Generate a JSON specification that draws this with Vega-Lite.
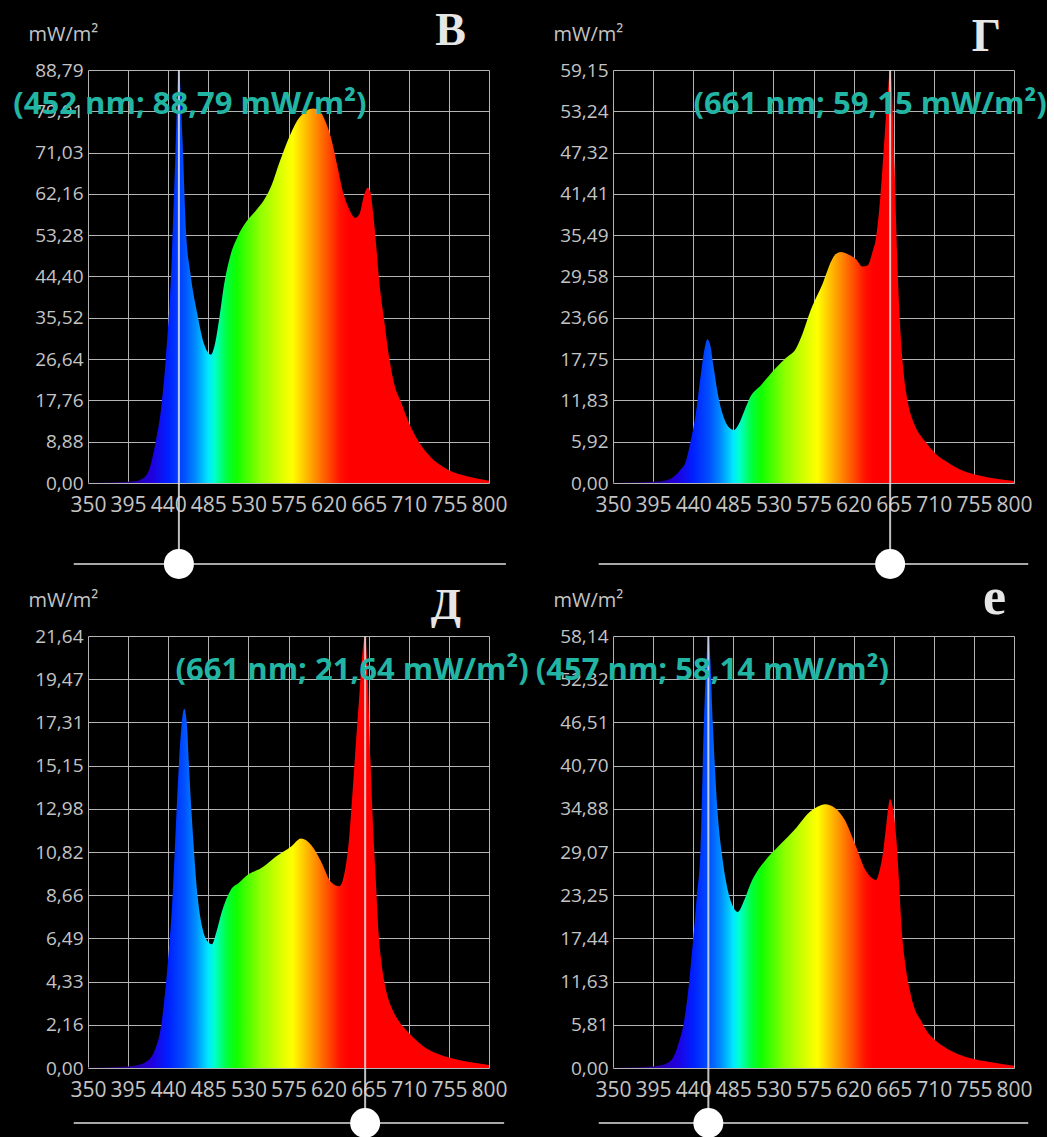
{
"$schema":"https://vega.github.io/schema/vega-lite/v6.json",
"background":"black",
"padding":{"left":13,"top":8,"right":0,"bottom":0},
"columns":2,
"spacing":{"row":153,"column":124},
"bounds":"flush",
"config":{"view":{"stroke":null},"axis":{"labelFont":"Open Sans","titleFont":"Open Sans","labelColor":"#c4c4c4","titleColor":"#c4c4c4","gridColor":"#b4b4b4","gridWidth":1,"gridOpacity":1,"domain":false,"ticks":false,"labelOverlap":false,"labelBound":false,"labelFlush":false}},
"datasets":{
"mk":[
{"p":"v","peak":452,"max":88.79,"lvl":-17.41,"s0":334,"s1":819,"label":"(452 nm; 88,79 mW/m²)"},
{"p":"g","peak":661,"max":59.15,"lvl":-11.6,"s0":334,"s1":816,"label":"(661 nm; 59,15 mW/m²)"},
{"p":"d","peak":661,"max":21.64,"lvl":-2.755,"s0":334,"s1":817,"label":"(661 nm; 21,64 mW/m²)"},
{"p":"e","peak":457,"max":58.14,"lvl":-7.4,"s0":334,"s1":816,"label":"(457 nm; 58,14 mW/m²)"}
],
"spec":[
{"p":"v","nm":350,"v":0.05},{"p":"v","nm":370,"v":0.1},{"p":"v","nm":390,"v":0.2},{"p":"v","nm":400,"v":0.3},{"p":"v","nm":410,"v":0.8},{"p":"v","nm":418,"v":2.5},{"p":"v","nm":426,"v":8.9},{"p":"v","nm":432,"v":16},{"p":"v","nm":437,"v":26},{"p":"v","nm":443,"v":44},{"p":"v","nm":448,"v":70},{"p":"v","nm":452,"v":88.79},{"p":"v","nm":456,"v":74},{"p":"v","nm":460,"v":54},{"p":"v","nm":465,"v":45},{"p":"v","nm":473,"v":36},{"p":"v","nm":480,"v":30},{"p":"v","nm":488,"v":27.6},{"p":"v","nm":492,"v":29.5},{"p":"v","nm":497,"v":35},{"p":"v","nm":503,"v":43},{"p":"v","nm":510,"v":49},{"p":"v","nm":518,"v":53},{"p":"v","nm":527,"v":56},{"p":"v","nm":538,"v":58.5},{"p":"v","nm":548,"v":61},{"p":"v","nm":556,"v":64},{"p":"v","nm":565,"v":69},{"p":"v","nm":575,"v":74},{"p":"v","nm":585,"v":78},{"p":"v","nm":595,"v":80},{"p":"v","nm":603,"v":80.5},{"p":"v","nm":610,"v":80},{"p":"v","nm":617,"v":77.5},{"p":"v","nm":623,"v":74},{"p":"v","nm":630,"v":68},{"p":"v","nm":637,"v":62},{"p":"v","nm":644,"v":58.5},{"p":"v","nm":650,"v":57},{"p":"v","nm":655,"v":58},{"p":"v","nm":660,"v":62},{"p":"v","nm":664,"v":63.5},{"p":"v","nm":667,"v":62.5},{"p":"v","nm":670,"v":58},{"p":"v","nm":673,"v":52},{"p":"v","nm":677,"v":43},{"p":"v","nm":682,"v":35.5},{"p":"v","nm":688,"v":27},{"p":"v","nm":694,"v":21},{"p":"v","nm":701,"v":17.5},{"p":"v","nm":710,"v":13},{"p":"v","nm":721,"v":8.9},{"p":"v","nm":735,"v":5.5},{"p":"v","nm":750,"v":3.3},{"p":"v","nm":770,"v":1.7},{"p":"v","nm":785,"v":1},{"p":"v","nm":800,"v":0.5},
{"p":"g","nm":350,"v":0.05},{"p":"g","nm":380,"v":0.1},{"p":"g","nm":400,"v":0.2},{"p":"g","nm":410,"v":0.4},{"p":"g","nm":418,"v":0.9},{"p":"g","nm":425,"v":1.8},{"p":"g","nm":432,"v":3.2},{"p":"g","nm":437,"v":5.9},{"p":"g","nm":443,"v":10},{"p":"g","nm":448,"v":15},{"p":"g","nm":452,"v":18.7},{"p":"g","nm":456,"v":20.6},{"p":"g","nm":459,"v":19.8},{"p":"g","nm":463,"v":16.5},{"p":"g","nm":468,"v":12.5},{"p":"g","nm":474,"v":9.5},{"p":"g","nm":480,"v":8},{"p":"g","nm":486,"v":7.6},{"p":"g","nm":491,"v":8.4},{"p":"g","nm":497,"v":10.2},{"p":"g","nm":504,"v":12.3},{"p":"g","nm":516,"v":14},{"p":"g","nm":533,"v":16.5},{"p":"g","nm":545,"v":18},{"p":"g","nm":555,"v":19.2},{"p":"g","nm":563,"v":21.5},{"p":"g","nm":572,"v":24.8},{"p":"g","nm":586,"v":28.8},{"p":"g","nm":595,"v":31.8},{"p":"g","nm":600,"v":32.8},{"p":"g","nm":606,"v":33.1},{"p":"g","nm":613,"v":32.8},{"p":"g","nm":623,"v":32},{"p":"g","nm":630,"v":31},{"p":"g","nm":636,"v":31.2},{"p":"g","nm":641,"v":33},{"p":"g","nm":645,"v":35},{"p":"g","nm":650,"v":41},{"p":"g","nm":655,"v":50},{"p":"g","nm":659,"v":57},{"p":"g","nm":661,"v":59.15},{"p":"g","nm":663,"v":56},{"p":"g","nm":666,"v":45},{"p":"g","nm":669,"v":32},{"p":"g","nm":672,"v":23},{"p":"g","nm":676,"v":16},{"p":"g","nm":681,"v":11.5},{"p":"g","nm":688,"v":8.5},{"p":"g","nm":700,"v":6},{"p":"g","nm":712,"v":4.2},{"p":"g","nm":725,"v":3},{"p":"g","nm":740,"v":1.9},{"p":"g","nm":760,"v":1.1},{"p":"g","nm":780,"v":0.6},{"p":"g","nm":800,"v":0.3},
{"p":"d","nm":350,"v":0.02},{"p":"d","nm":380,"v":0.05},{"p":"d","nm":400,"v":0.1},{"p":"d","nm":415,"v":0.3},{"p":"d","nm":425,"v":0.9},{"p":"d","nm":432,"v":2.1},{"p":"d","nm":438,"v":4.5},{"p":"d","nm":445,"v":8.7},{"p":"d","nm":449,"v":12.5},{"p":"d","nm":452,"v":15.2},{"p":"d","nm":455,"v":17.2},{"p":"d","nm":458,"v":18},{"p":"d","nm":461,"v":17.2},{"p":"d","nm":464,"v":14.5},{"p":"d","nm":468,"v":11.5},{"p":"d","nm":473,"v":8.6},{"p":"d","nm":479,"v":6.9},{"p":"d","nm":485,"v":6.3},{"p":"d","nm":489,"v":6.2},{"p":"d","nm":494,"v":6.8},{"p":"d","nm":500,"v":7.8},{"p":"d","nm":510,"v":8.9},{"p":"d","nm":520,"v":9.3},{"p":"d","nm":530,"v":9.7},{"p":"d","nm":544,"v":10},{"p":"d","nm":561,"v":10.6},{"p":"d","nm":578,"v":11.1},{"p":"d","nm":589,"v":11.5},{"p":"d","nm":600,"v":11.2},{"p":"d","nm":611,"v":10.4},{"p":"d","nm":623,"v":9.3},{"p":"d","nm":632,"v":9.1},{"p":"d","nm":638,"v":9.8},{"p":"d","nm":643,"v":11.5},{"p":"d","nm":647,"v":13.9},{"p":"d","nm":651,"v":16.5},{"p":"d","nm":655,"v":19},{"p":"d","nm":658,"v":20.8},{"p":"d","nm":661,"v":21.64},{"p":"d","nm":664,"v":19.5},{"p":"d","nm":667,"v":15.4},{"p":"d","nm":670,"v":12},{"p":"d","nm":673,"v":9.4},{"p":"d","nm":676,"v":6.8},{"p":"d","nm":679,"v":5.4},{"p":"d","nm":684,"v":4},{"p":"d","nm":690,"v":3.1},{"p":"d","nm":698,"v":2.4},{"p":"d","nm":707,"v":1.9},{"p":"d","nm":718,"v":1.4},{"p":"d","nm":729,"v":1},{"p":"d","nm":743,"v":0.7},{"p":"d","nm":757,"v":0.5},{"p":"d","nm":778,"v":0.3},{"p":"d","nm":800,"v":0.15},
{"p":"e","nm":350,"v":0.05},{"p":"e","nm":380,"v":0.1},{"p":"e","nm":400,"v":0.3},{"p":"e","nm":410,"v":0.6},{"p":"e","nm":418,"v":1.5},{"p":"e","nm":424,"v":3.5},{"p":"e","nm":429,"v":5.8},{"p":"e","nm":434,"v":10},{"p":"e","nm":440,"v":17.4},{"p":"e","nm":444,"v":23},{"p":"e","nm":448,"v":29},{"p":"e","nm":452,"v":46.5},{"p":"e","nm":455,"v":55},{"p":"e","nm":457,"v":58.14},{"p":"e","nm":459,"v":55.5},{"p":"e","nm":462,"v":46.5},{"p":"e","nm":467,"v":35},{"p":"e","nm":472,"v":29},{"p":"e","nm":477,"v":25},{"p":"e","nm":483,"v":22.2},{"p":"e","nm":490,"v":21},{"p":"e","nm":497,"v":22.5},{"p":"e","nm":504,"v":24.7},{"p":"e","nm":512,"v":26.5},{"p":"e","nm":520,"v":27.8},{"p":"e","nm":537,"v":30},{"p":"e","nm":554,"v":32.1},{"p":"e","nm":571,"v":34.5},{"p":"e","nm":580,"v":35.2},{"p":"e","nm":588,"v":35.5},{"p":"e","nm":599,"v":35},{"p":"e","nm":610,"v":33.4},{"p":"e","nm":622,"v":30},{"p":"e","nm":633,"v":26.7},{"p":"e","nm":640,"v":25.6},{"p":"e","nm":645,"v":25.3},{"p":"e","nm":649,"v":26.5},{"p":"e","nm":653,"v":29},{"p":"e","nm":657,"v":33},{"p":"e","nm":661,"v":36.2},{"p":"e","nm":664,"v":35},{"p":"e","nm":668,"v":30.8},{"p":"e","nm":671,"v":25},{"p":"e","nm":674,"v":18.6},{"p":"e","nm":678,"v":14},{"p":"e","nm":683,"v":10.5},{"p":"e","nm":689,"v":7.8},{"p":"e","nm":695,"v":6.5},{"p":"e","nm":703,"v":4.8},{"p":"e","nm":711,"v":3.8},{"p":"e","nm":725,"v":2.6},{"p":"e","nm":739,"v":1.8},{"p":"e","nm":755,"v":1.2},{"p":"e","nm":773,"v":0.8},{"p":"e","nm":800,"v":0.3}
]},
"concat":[
{"width":401,"height":413,
"title":{"text":"В","anchor":"end","frame":"group","dx":-23,"offset":-67,"baseline":"alphabetic","font":"Liberation Serif","fontSize":46,"fontWeight":"bold","color":"#e6e6e6"},
"layer":[
{"data":{"name":"spec"},"transform":[{"filter":"datum.p == 'v'"}],
"mark":{"type":"area","interpolate":"monotone","opacity":1,"color":{"gradient":"linear","x1":0,"y1":0,"x2":1,"y2":0,"stops":[{"offset":0,"color":"#1a0030"},{"offset":0.1,"color":"#2a0090"},{"offset":0.16,"color":"#2000e0"},{"offset":0.2,"color":"#0020ff"},{"offset":0.24,"color":"#0050ff"},{"offset":0.27,"color":"#0090ff"},{"offset":0.3,"color":"#00e8ff"},{"offset":0.315,"color":"#00ffd0"},{"offset":0.345,"color":"#00ff40"},{"offset":0.37,"color":"#10ff00"},{"offset":0.43,"color":"#90ff00"},{"offset":0.49,"color":"#e8ff00"},{"offset":0.51,"color":"#ffff00"},{"offset":0.55,"color":"#ffb000"},{"offset":0.59,"color":"#ff6000"},{"offset":0.63,"color":"#ff1000"},{"offset":0.65,"color":"#ff0000"},{"offset":1,"color":"#ff0000"}]}},
"encoding":{
"x":{"field":"nm","type":"quantitative","scale":{"domain":[350,800],"nice":false,"zero":false},"axis":{"title":null,"values":[350,395,440,485,530,575,620,665,710,755,800],"labelFontSize":21,"labelPadding":11}},
"y":{"field":"v","type":"quantitative","scale":{"domain":[0,88.79],"nice":false,"zero":false},"axis":{"title":"mW/m²","values":[0,8.88,17.76,26.64,35.52,44.4,53.28,62.16,71.03,79.91,88.79],"labelExpr":"replace(format(datum.value, '.2f'), '.', ',')","labelFontSize":19,"labelPadding":5,"titleAngle":0,"titleAlign":"left","titleBaseline":"middle","titleX":-60,"titleY":-36,"titleFontSize":20,"titleFontWeight":"normal"}}}},
{"data":{"name":"mk"},"transform":[{"filter":"datum.p == 'v'"}],"mark":{"type":"rule","color":"#a8a8a8","strokeWidth":2},
"encoding":{"x":{"field":"s0","type":"quantitative"},"x2":{"field":"s1"},"y":{"field":"lvl","type":"quantitative"}}},
{"data":{"name":"mk"},"transform":[{"filter":"datum.p == 'v'"}],"mark":{"type":"rule","color":"#e0e0e0","strokeWidth":2,"opacity":0.85},
"encoding":{"x":{"field":"peak","type":"quantitative"},"y":{"field":"max","type":"quantitative"},"y2":{"field":"lvl"}}},
{"data":{"name":"mk"},"transform":[{"filter":"datum.p == 'v'"}],"mark":{"type":"point","shape":"circle","filled":true,"color":"white","size":900,"opacity":1},
"encoding":{"x":{"field":"peak","type":"quantitative"},"y":{"field":"lvl","type":"quantitative"}}},
{"data":{"name":"mk"},"transform":[{"filter":"datum.p == 'v'"}],"mark":{"type":"text","font":"Open Sans","fontSize":31,"fontWeight":"bold","color":"#22b5a3","dy":35,"dx":11,"baseline":"middle","align":"center"},
"encoding":{"x":{"field":"peak","type":"quantitative"},"y":{"field":"max","type":"quantitative"},"text":{"field":"label"}}}
]},
{"width":401,"height":413,
"title":{"text":"Г","anchor":"end","frame":"group","dx":-13,"offset":-73,"baseline":"alphabetic","font":"Liberation Serif","fontSize":46,"fontWeight":"bold","color":"#e6e6e6"},
"layer":[
{"data":{"name":"spec"},"transform":[{"filter":"datum.p == 'g'"}],
"mark":{"type":"area","interpolate":"monotone","opacity":1,"color":{"gradient":"linear","x1":0,"y1":0,"x2":1,"y2":0,"stops":[{"offset":0,"color":"#1a0030"},{"offset":0.1,"color":"#2a0090"},{"offset":0.16,"color":"#2000e0"},{"offset":0.2,"color":"#0020ff"},{"offset":0.24,"color":"#0050ff"},{"offset":0.27,"color":"#0090ff"},{"offset":0.3,"color":"#00e8ff"},{"offset":0.315,"color":"#00ffd0"},{"offset":0.345,"color":"#00ff40"},{"offset":0.37,"color":"#10ff00"},{"offset":0.43,"color":"#90ff00"},{"offset":0.49,"color":"#e8ff00"},{"offset":0.51,"color":"#ffff00"},{"offset":0.55,"color":"#ffb000"},{"offset":0.59,"color":"#ff6000"},{"offset":0.63,"color":"#ff1000"},{"offset":0.65,"color":"#ff0000"},{"offset":1,"color":"#ff0000"}]}},
"encoding":{
"x":{"field":"nm","type":"quantitative","scale":{"domain":[350,800],"nice":false,"zero":false},"axis":{"title":null,"values":[350,395,440,485,530,575,620,665,710,755,800],"labelFontSize":21,"labelPadding":11}},
"y":{"field":"v","type":"quantitative","scale":{"domain":[0,59.15],"nice":false,"zero":false},"axis":{"title":"mW/m²","values":[0,5.92,11.83,17.75,23.66,29.58,35.49,41.41,47.32,53.24,59.15],"labelExpr":"replace(format(datum.value, '.2f'), '.', ',')","labelFontSize":19,"labelPadding":5,"titleAngle":0,"titleAlign":"left","titleBaseline":"middle","titleX":-60,"titleY":-36,"titleFontSize":20,"titleFontWeight":"normal"}}}},
{"data":{"name":"mk"},"transform":[{"filter":"datum.p == 'g'"}],"mark":{"type":"rule","color":"#a8a8a8","strokeWidth":2},
"encoding":{"x":{"field":"s0","type":"quantitative"},"x2":{"field":"s1"},"y":{"field":"lvl","type":"quantitative"}}},
{"data":{"name":"mk"},"transform":[{"filter":"datum.p == 'g'"}],"mark":{"type":"rule","color":"#e0e0e0","strokeWidth":2,"opacity":0.85},
"encoding":{"x":{"field":"peak","type":"quantitative"},"y":{"field":"max","type":"quantitative"},"y2":{"field":"lvl"}}},
{"data":{"name":"mk"},"transform":[{"filter":"datum.p == 'g'"}],"mark":{"type":"point","shape":"circle","filled":true,"color":"white","size":900,"opacity":1},
"encoding":{"x":{"field":"peak","type":"quantitative"},"y":{"field":"lvl","type":"quantitative"}}},
{"data":{"name":"mk"},"transform":[{"filter":"datum.p == 'g'"}],"mark":{"type":"text","font":"Open Sans","fontSize":31,"fontWeight":"bold","color":"#22b5a3","dy":35,"dx":-20,"baseline":"middle","align":"center"},
"encoding":{"x":{"field":"peak","type":"quantitative"},"y":{"field":"max","type":"quantitative"},"text":{"field":"label"}}}
]},
{"width":401,"height":432,
"title":{"text":"Д","anchor":"end","frame":"group","dx":-28,"offset":-73,"baseline":"alphabetic","font":"Liberation Serif","fontSize":44,"fontWeight":"bold","color":"#e6e6e6"},
"layer":[
{"data":{"name":"spec"},"transform":[{"filter":"datum.p == 'd'"}],
"mark":{"type":"area","interpolate":"monotone","opacity":1,"color":{"gradient":"linear","x1":0,"y1":0,"x2":1,"y2":0,"stops":[{"offset":0,"color":"#1a0030"},{"offset":0.1,"color":"#2a0090"},{"offset":0.16,"color":"#2000e0"},{"offset":0.2,"color":"#0020ff"},{"offset":0.24,"color":"#0050ff"},{"offset":0.27,"color":"#0090ff"},{"offset":0.3,"color":"#00e8ff"},{"offset":0.315,"color":"#00ffd0"},{"offset":0.345,"color":"#00ff40"},{"offset":0.37,"color":"#10ff00"},{"offset":0.43,"color":"#90ff00"},{"offset":0.49,"color":"#e8ff00"},{"offset":0.51,"color":"#ffff00"},{"offset":0.55,"color":"#ffb000"},{"offset":0.59,"color":"#ff6000"},{"offset":0.63,"color":"#ff1000"},{"offset":0.65,"color":"#ff0000"},{"offset":1,"color":"#ff0000"}]}},
"encoding":{
"x":{"field":"nm","type":"quantitative","scale":{"domain":[350,800],"nice":false,"zero":false},"axis":{"title":null,"values":[350,395,440,485,530,575,620,665,710,755,800],"labelFontSize":21,"labelPadding":11}},
"y":{"field":"v","type":"quantitative","scale":{"domain":[0,21.64],"nice":false,"zero":false},"axis":{"title":"mW/m²","values":[0,2.16,4.33,6.49,8.66,10.82,12.98,15.15,17.31,19.47,21.64],"labelExpr":"replace(format(datum.value, '.2f'), '.', ',')","labelFontSize":19,"labelPadding":5,"titleAngle":0,"titleAlign":"left","titleBaseline":"middle","titleX":-60,"titleY":-36,"titleFontSize":20,"titleFontWeight":"normal"}}}},
{"data":{"name":"mk"},"transform":[{"filter":"datum.p == 'd'"}],"mark":{"type":"rule","color":"#a8a8a8","strokeWidth":2},
"encoding":{"x":{"field":"s0","type":"quantitative"},"x2":{"field":"s1"},"y":{"field":"lvl","type":"quantitative"}}},
{"data":{"name":"mk"},"transform":[{"filter":"datum.p == 'd'"}],"mark":{"type":"rule","color":"#e0e0e0","strokeWidth":2,"opacity":0.85},
"encoding":{"x":{"field":"peak","type":"quantitative"},"y":{"field":"max","type":"quantitative"},"y2":{"field":"lvl"}}},
{"data":{"name":"mk"},"transform":[{"filter":"datum.p == 'd'"}],"mark":{"type":"point","shape":"circle","filled":true,"color":"white","size":900,"opacity":1},
"encoding":{"x":{"field":"peak","type":"quantitative"},"y":{"field":"lvl","type":"quantitative"}}},
{"data":{"name":"mk"},"transform":[{"filter":"datum.p == 'd'"}],"mark":{"type":"text","font":"Open Sans","fontSize":31,"fontWeight":"bold","color":"#22b5a3","dy":35,"dx":-13,"baseline":"middle","align":"center"},
"encoding":{"x":{"field":"peak","type":"quantitative"},"y":{"field":"max","type":"quantitative"},"text":{"field":"label"}}}
]},
{"width":401,"height":432,
"title":{"text":"е","anchor":"end","frame":"group","dx":-8,"offset":-76,"baseline":"alphabetic","font":"Liberation Serif","fontSize":52,"fontWeight":"bold","color":"#e6e6e6"},
"layer":[
{"data":{"name":"spec"},"transform":[{"filter":"datum.p == 'e'"}],
"mark":{"type":"area","interpolate":"monotone","opacity":1,"color":{"gradient":"linear","x1":0,"y1":0,"x2":1,"y2":0,"stops":[{"offset":0,"color":"#1a0030"},{"offset":0.1,"color":"#2a0090"},{"offset":0.16,"color":"#2000e0"},{"offset":0.2,"color":"#0020ff"},{"offset":0.24,"color":"#0050ff"},{"offset":0.27,"color":"#0090ff"},{"offset":0.3,"color":"#00e8ff"},{"offset":0.315,"color":"#00ffd0"},{"offset":0.345,"color":"#00ff40"},{"offset":0.37,"color":"#10ff00"},{"offset":0.43,"color":"#90ff00"},{"offset":0.49,"color":"#e8ff00"},{"offset":0.51,"color":"#ffff00"},{"offset":0.55,"color":"#ffb000"},{"offset":0.59,"color":"#ff6000"},{"offset":0.63,"color":"#ff1000"},{"offset":0.65,"color":"#ff0000"},{"offset":1,"color":"#ff0000"}]}},
"encoding":{
"x":{"field":"nm","type":"quantitative","scale":{"domain":[350,800],"nice":false,"zero":false},"axis":{"title":null,"values":[350,395,440,485,530,575,620,665,710,755,800],"labelFontSize":21,"labelPadding":11}},
"y":{"field":"v","type":"quantitative","scale":{"domain":[0,58.14],"nice":false,"zero":false},"axis":{"title":"mW/m²","values":[0,5.81,11.63,17.44,23.25,29.07,34.88,40.7,46.51,52.32,58.14],"labelExpr":"replace(format(datum.value, '.2f'), '.', ',')","labelFontSize":19,"labelPadding":5,"titleAngle":0,"titleAlign":"left","titleBaseline":"middle","titleX":-60,"titleY":-36,"titleFontSize":20,"titleFontWeight":"normal"}}}},
{"data":{"name":"mk"},"transform":[{"filter":"datum.p == 'e'"}],"mark":{"type":"rule","color":"#a8a8a8","strokeWidth":2},
"encoding":{"x":{"field":"s0","type":"quantitative"},"x2":{"field":"s1"},"y":{"field":"lvl","type":"quantitative"}}},
{"data":{"name":"mk"},"transform":[{"filter":"datum.p == 'e'"}],"mark":{"type":"rule","color":"#e0e0e0","strokeWidth":2,"opacity":0.85},
"encoding":{"x":{"field":"peak","type":"quantitative"},"y":{"field":"max","type":"quantitative"},"y2":{"field":"lvl"}}},
{"data":{"name":"mk"},"transform":[{"filter":"datum.p == 'e'"}],"mark":{"type":"point","shape":"circle","filled":true,"color":"white","size":900,"opacity":1},
"encoding":{"x":{"field":"peak","type":"quantitative"},"y":{"field":"lvl","type":"quantitative"}}},
{"data":{"name":"mk"},"transform":[{"filter":"datum.p == 'e'"}],"mark":{"type":"text","font":"Open Sans","fontSize":31,"fontWeight":"bold","color":"#22b5a3","dy":35,"dx":4,"baseline":"middle","align":"center"},
"encoding":{"x":{"field":"peak","type":"quantitative"},"y":{"field":"max","type":"quantitative"},"text":{"field":"label"}}}
]}
]
}
